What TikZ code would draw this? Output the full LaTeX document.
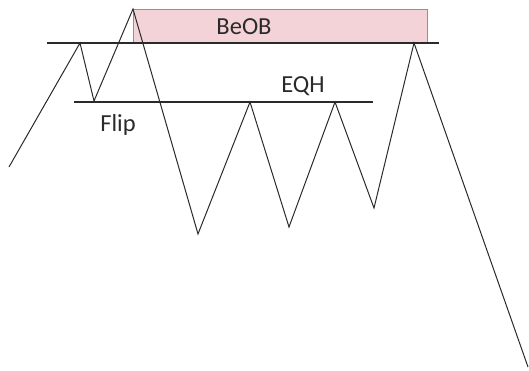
\documentclass[tikz,border=0pt]{standalone}
\usepackage{fontspec}
\setmainfont{Carlito}
\definecolor{obfill}{HTML}{F4D3D8}
\definecolor{obline}{HTML}{C27B86}
\definecolor{ink}{HTML}{2A2A2A}
\begin{document}
\begin{tikzpicture}[x=1pt,y=-1pt,
  wave/.style={draw=ink,line width=1.0pt,line join=miter},
  level/.style={draw=ink,line width=1.1pt},
  lbl/.style={font=\fontsize{24.5}{26}\selectfont,text=ink,inner sep=0pt}]
\useasboundingbox (0,0) rectangle (529,371);
% order block
\node[draw=obline,fill=obfill,line width=0.9pt,minimum width=294pt,minimum height=34pt,inner sep=0pt,anchor=north west] (ob) at (133,9.5) {};
\node[lbl] (beob) at (244,27) {BeOB};
% points
\coordinate (p0) at (9,167);
\coordinate (p1) at (80,43);
\coordinate (p2) at (94,101);
\coordinate (p3) at (133,9);
\coordinate (p4) at (198,234);
\coordinate (p5) at (250,102);
\coordinate (p6) at (289,227);
\coordinate (p7) at (335,102);
\coordinate (p8) at (374,208);
\coordinate (p9) at (414,43);
\coordinate (p10) at (528,367);
% level lines
\coordinate (t1) at (47,43);
\coordinate (t2) at (439,43);
\coordinate (f1) at (74,102);
\coordinate (f2) at (373,102);
\draw[level] (t1) -- (t2);
\draw[level] (f1) -- (f2);
% price wave
\draw[wave] (p0) -- (p1) -- (p2) -- (p3) -- (p4) -- (p5) -- (p6) -- (p7) -- (p8) -- (p9) -- (p10);
% labels
\node[lbl] (eqh) at (303,86) {EQH};
\node[lbl] (flip) at (118,125) {Flip};
\end{tikzpicture}
\end{document}
